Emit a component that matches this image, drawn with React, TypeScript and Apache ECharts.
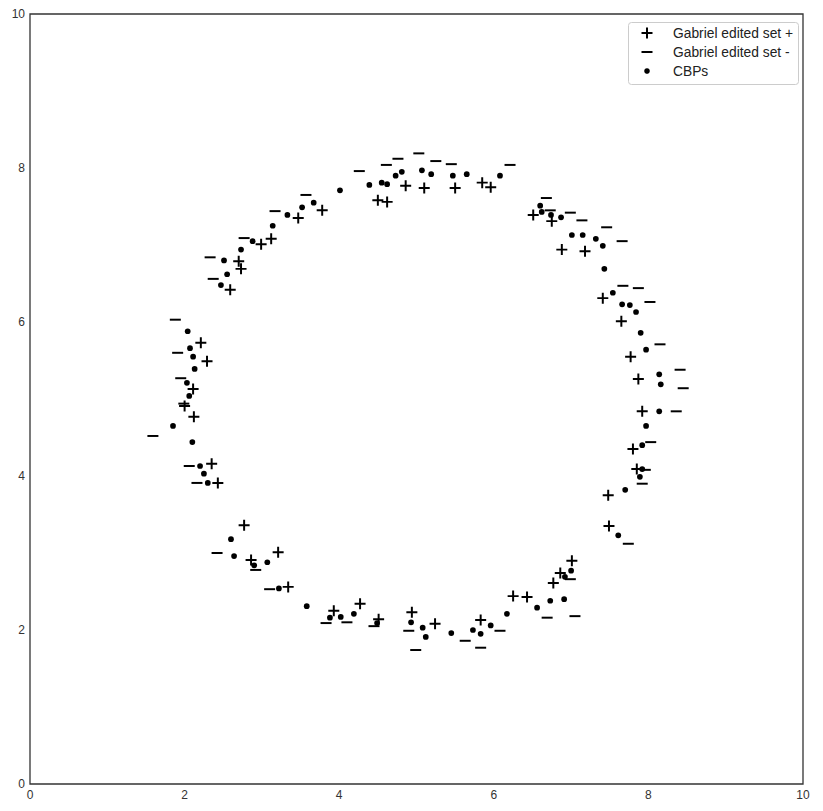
import React, { useEffect, useRef } from "react";
import * as echarts from "echarts";

const xTicks = [0, 2, 4, 6, 8, 10];
const yTicks = [0, 2, 4, 6, 8, 10];
const seriesNames = ["Gabriel edited set +", "Gabriel edited set -", "CBPs"];

const plusPoints: [number, number][] = [
  [2.21, 5.73], [2.29, 5.49], [2.11, 5.13], [2.12, 4.77], [2.0, 4.91], [2.35, 4.16], [2.43, 3.91],
  [2.7, 6.79], [2.73, 6.69], [2.59, 6.42], [2.99, 7.01], [3.12, 7.08], [3.47, 7.35], [3.78, 7.45],
  [4.5, 7.58], [4.62, 7.56], [4.86, 7.77], [5.1, 7.74], [5.5, 7.74], [5.85, 7.81], [5.96, 7.75], [6.51, 7.39],
  [6.75, 7.31], [6.88, 6.94], [7.18, 6.92], [7.41, 6.31],
  [7.65, 6.01], [7.77, 5.55], [7.87, 5.26], [7.92, 4.84], [7.8, 4.35], [7.85, 4.09], [7.48, 3.75], [7.49, 3.35],
  [7.01, 2.9], [6.86, 2.74], [6.77, 2.61], [6.25, 2.44], [6.43, 2.43], [5.83, 2.13],
  [3.93, 2.25], [4.27, 2.34], [4.51, 2.14], [4.94, 2.23], [5.24, 2.08],
  [2.77, 3.36], [2.86, 2.91], [3.21, 3.01], [3.34, 2.56],
];

const minusPoints: [number, number][] = [
  [1.88, 6.03], [1.91, 5.6], [1.95, 5.27], [1.99, 4.94], [1.59, 4.52], [2.06, 4.13], [2.16, 3.91],
  [2.33, 6.84], [2.37, 6.56], [2.77, 7.09], [3.17, 7.44], [3.57, 7.65], [4.26, 7.96], [4.61, 8.04],
  [4.76, 8.12], [5.03, 8.19], [5.25, 8.09], [5.45, 8.05], [6.21, 8.04],
  [6.68, 7.61], [6.73, 7.45], [6.99, 7.42], [7.14, 7.32], [7.46, 7.23], [7.66, 7.05], [7.67, 6.47], [7.87, 6.44], [8.02, 6.26],
  [8.15, 5.71], [8.41, 5.38], [8.45, 5.14], [8.36, 4.84], [8.03, 4.44], [7.96, 4.08], [7.92, 3.9], [7.74, 3.12],
  [6.99, 2.66], [6.69, 2.16], [7.05, 2.18], [6.08, 1.99], [5.83, 1.77],
  [3.83, 2.09], [4.1, 2.1], [4.45, 2.05], [4.9, 1.99], [4.99, 1.74], [5.63, 1.86],
  [2.42, 3.0], [2.92, 2.78], [3.1, 2.53],
];

const cbpPoints: [number, number][] = [
  [2.04, 5.88], [2.07, 5.66], [2.11, 5.55], [2.13, 5.39], [2.03, 5.21], [2.06, 5.04], [1.85, 4.65],
  [2.1, 4.44], [2.2, 4.13], [2.25, 4.03], [2.3, 3.91],
  [2.51, 6.8], [2.55, 6.62], [2.47, 6.48], [2.73, 6.94], [2.88, 7.05], [3.14, 7.25], [3.33, 7.39],
  [3.52, 7.49], [3.67, 7.55], [4.01, 7.71], [4.39, 7.78], [4.55, 7.81], [4.62, 7.79], [4.73, 7.9],
  [4.81, 7.95], [5.07, 7.97], [5.19, 7.92], [5.47, 7.9], [5.65, 7.92], [6.08, 7.9],
  [6.6, 7.51], [6.62, 7.43], [6.74, 7.39], [6.87, 7.36], [7.01, 7.13], [7.15, 7.13], [7.32, 7.08],
  [7.41, 6.99], [7.43, 6.69], [7.54, 6.38], [7.66, 6.23], [7.76, 6.22], [7.84, 6.13],
  [7.9, 5.86], [7.97, 5.64], [8.14, 5.32], [8.16, 5.19], [8.14, 4.84], [7.97, 4.65], [7.92, 4.4],
  [7.92, 4.09], [7.89, 3.99], [7.7, 3.82], [7.61, 3.23],
  [7.0, 2.77], [6.92, 2.69], [6.73, 2.38], [6.91, 2.4], [6.56, 2.29], [6.17, 2.21], [5.96, 2.06],
  [5.83, 1.95], [5.73, 2.0],
  [5.45, 1.96], [5.12, 1.91], [5.08, 2.03], [4.93, 2.1], [4.49, 2.09], [4.19, 2.21], [4.02, 2.17],
  [3.88, 2.16], [3.58, 2.31],
  [2.6, 3.18], [2.64, 2.96], [2.9, 2.84], [3.07, 2.88], [3.22, 2.54],
];

// symbol paths padded to a 10x10 box (degenerate moveTo points keep the bounding box square)
const PLUS = "path://M0,0M10,10M4.1,0L5.9,0L5.9,10L4.1,10ZM0,4.1L10,4.1L10,5.9L0,5.9Z";
const MINUS = "path://M0,0M10,10M0,4.1L10,4.1L10,5.9L0,5.9Z";
const DOT = "path://M0,0M10,10M5,2.4A2.6,2.6 0 1,1 5,7.6A2.6,2.6 0 1,1 5,2.4Z";

export default function App() {
  const ref = useRef<HTMLDivElement>(null);
  useEffect(() => {
    if (!ref.current) return;
    const chart = echarts.init(ref.current, undefined, { renderer: "svg" });
    const font = "'Liberation Sans', Arial, sans-serif";
    const symbols = [PLUS, MINUS, DOT];
    const datasets = [plusPoints, minusPoints, cbpPoints];

    const lx = 628, ly = 22, iconX = 647, textX = 673;
    const rowY = [33, 52, 71];
    const legendGraphics: any[] = [
      {
        type: "rect",
        shape: { x: lx + 0.5, y: ly + 0.5, width: 170, height: 62, r: 3 },
        style: { fill: "rgba(255,255,255,0.8)", stroke: "#cccccc", lineWidth: 1 },
        z: 10,
        silent: true,
      },
      // plus icon
      { type: "rect", shape: { x: iconX - 5.5, y: rowY[0] - 1, width: 11, height: 2 }, style: { fill: "#000" }, z: 11, silent: true },
      { type: "rect", shape: { x: iconX - 1, y: rowY[0] - 5.5, width: 2, height: 11 }, style: { fill: "#000" }, z: 11, silent: true },
      // minus icon
      { type: "rect", shape: { x: iconX - 5.5, y: rowY[1] - 1, width: 11, height: 2 }, style: { fill: "#000" }, z: 11, silent: true },
      // dot icon
      { type: "circle", shape: { cx: iconX, cy: rowY[2], r: 2.8 }, style: { fill: "#000" }, z: 11, silent: true },
      ...seriesNames.map((n, i) => ({
        type: "text",
        x: textX,
        y: rowY[i],
        style: {
          text: n,
          fill: "#222222",
          font: `13.8px ${font}`,
          textVerticalAlign: "middle",
          verticalAlign: "middle",
          textAlign: "left",
        },
        z: 11,
        silent: true,
      })),
    ];

    chart.setOption({
      animation: false,
      backgroundColor: "#ffffff",
      grid: {
        left: 30,
        right: 20,
        top: 14,
        bottom: 27,
        show: true,
        borderColor: "#333333",
        borderWidth: 1.3,
        containLabel: false,
      },
      xAxis: {
        type: "value",
        min: 0,
        max: 10,
        interval: 2,
        axisLine: { show: false },
        axisTick: { show: false },
        splitLine: { show: false },
        axisLabel: {
          margin: 5,
          fontSize: 12,
          color: "#333333",
          fontFamily: font,
          formatter: (v: number) => (xTicks.includes(v) ? String(v) : ""),
        },
      },
      yAxis: {
        type: "value",
        min: 0,
        max: 10,
        interval: 2,
        axisLine: { show: false },
        axisTick: { show: false },
        splitLine: { show: false },
        axisLabel: {
          margin: 5,
          fontSize: 12,
          color: "#333333",
          fontFamily: font,
          formatter: (v: number) => (yTicks.includes(v) ? String(v) : ""),
        },
      },
      graphic: legendGraphics,
      series: seriesNames.map((n, i) => ({
        name: n,
        type: "scatter",
        data: datasets[i],
        symbol: symbols[i],
        symbolSize: 11,
        itemStyle: { color: "#000000", opacity: 1 },
        emphasis: { disabled: true },
      })),
    });
    return () => chart.dispose();
  }, []);
  return <div ref={ref} style={{ width: 823, height: 811, position: "absolute", left: 0, top: 0 }} />;
}
